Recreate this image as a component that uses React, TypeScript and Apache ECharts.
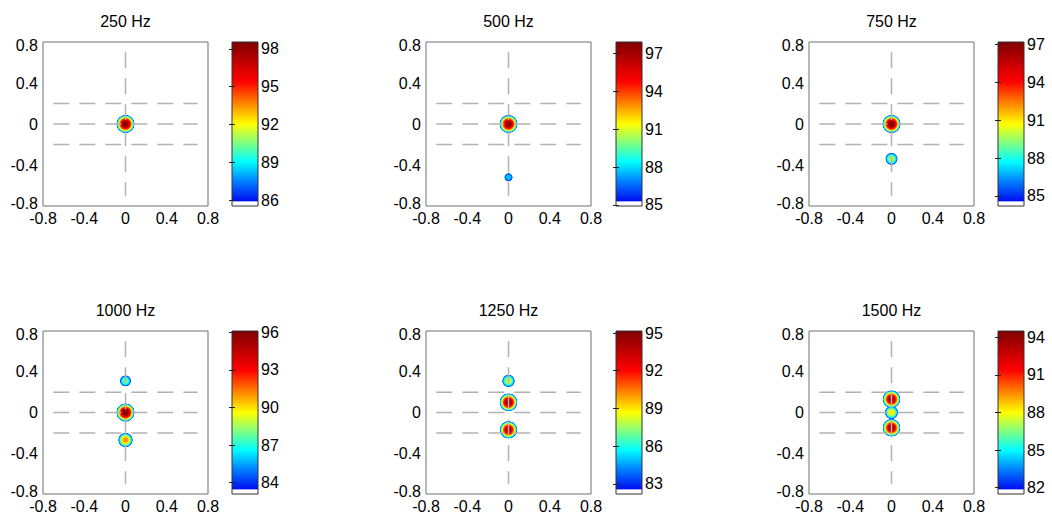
import React, { useEffect, useRef } from 'react';
import * as echarts from 'echarts';

// ---------- data ----------
const titles = ['250 Hz', '500 Hz', '750 Hz', '1000 Hz', '1250 Hz', '1500 Hz'];
const axisTickValues = [-0.8, -0.4, 0, 0.4, 0.8];
// source positions (x, y) and peak levels (dB) per panel
const srcX = [[0], [0, 0], [0, 0], [0, 0, 0], [0, 0, 0], [0, 0, 0]];
const srcY = [[0], [0, -0.52], [0, -0.34], [0.31, 0, -0.27], [0.31, 0.1, -0.17], [0.13, 0, -0.15]];
const srcPeak = [[98.3], [97.5, 87.8], [97.0, 90.0], [88.0, 96.0, 91.2], [88.3, 94.6, 94.0], [93.6, 88.3, 93.6]];
// colour bar ranges and tick labels
const cbMin = [85.53, 84.92, 84.2, 83.1, 82.2, 81.5];
const cbMax = [98.55, 97.9, 97.2, 96.1, 95.16, 94.5];
const cbTicks = [
  [86, 89, 92, 95, 98],
  [85, 88, 91, 94, 97],
  [85, 88, 91, 94, 97],
  [84, 87, 90, 93, 96],
  [83, 86, 89, 92, 95],
  [82, 85, 88, 91, 94],
];
// dashed guide lines
const guideY = [0.2, 0, -0.2];
const guideX = [0];
const guideSpan = [-0.7, 0.7];

// ---------- style ----------
const FONT = '"Liberation Sans", Arial, Helvetica, sans-serif';
const FS = 16;
const colLeft = [43, 426, 809];
const cbLeft = [232, 616, 998];
const rowTop = [42, 331];
const rowH = [164, 163];
const plotW = 165;
const cbW = 26;
const ringStep = 0.2;
const ringStart = 0.9; // dB above colour-bar minimum where blobs begin
const curvature = 0.16; // dB per px^2 (blob profile)

const cmapStops: [number, string][] = [
  [0, '#ffffff'],
  [0.025, '#ffffff'],
  [0.032, '#0010f0'],
  [0.15, '#0080ff'],
  [0.27, '#00ffff'],
  [0.385, '#80ff80'],
  [0.5, '#ffff00'],
  [0.63, '#ff8000'],
  [0.76, '#ff0000'],
  [1, '#800000'],
];

function hexToRgb(h: string) {
  return [parseInt(h.slice(1, 3), 16), parseInt(h.slice(3, 5), 16), parseInt(h.slice(5, 7), 16)];
}
function sampleCmap(t: number) {
  for (let k = 1; k < cmapStops.length; k++) {
    const [t1, c1] = cmapStops[k];
    const [t0, c0] = cmapStops[k - 1];
    if (t <= t1) {
      const f = t1 === t0 ? 0 : (t - t0) / (t1 - t0);
      const a = hexToRgb(c0), b = hexToRgb(c1);
      const r = a.map((v, j) => Math.round(v + (b[j] - v) * f));
      return `rgb(${r[0]},${r[1]},${r[2]})`;
    }
  }
  return cmapStops[cmapStops.length - 1][1];
}
const cmapColors: string[] = [];
for (let k = 0; k <= 200; k++) cmapColors.push(sampleCmap(k / 200));

function blobPoints(i: number) {
  const pts: number[][] = [];
  srcY[i].forEach((y, k) => {
    const x = srcX[i][k];
    const peak = srcPeak[i][k];
    for (let l = cbMin[i] + ringStart; l < peak; l += ringStep) {
      pts.push([x, y, l, Math.max(1.5, 2 * Math.sqrt((peak - l + 0.5) / curvature))]);
    }
    pts.push([x, y, peak, 2]);
  });
  pts.sort((a, b) => a[2] - b[2]);
  return pts;
}

const fmt = (v: number) => {
  const s = String(Math.round(v * 10) / 10);
  if (Math.abs(v + 0.8) < 1e-6) return `{lo|${s}}`;
  if (Math.abs(v - 0.8) < 1e-6) return `{hi|${s}}`;
  return s;
};
const fmtX = (v: number) => String(Math.round(v * 10) / 10);

export default function App() {
  const ref = useRef<HTMLDivElement>(null);
  useEffect(() => {
    if (!ref.current) return;
    const chart = echarts.init(ref.current, null, { renderer: 'svg' });
    const grid: any[] = [];
    const xAxis: any[] = [];
    const yAxis: any[] = [];
    const series: any[] = [];
    const visualMap: any[] = [];
    const graphic: any[] = [];
    const txt = { color: '#000', fontSize: FS, fontFamily: FONT };

    // plot grids 0..5
    for (let i = 0; i < 6; i++) {
      const r = Math.floor(i / 3), c = i % 3;
      grid.push({
        left: colLeft[c], top: rowTop[r], width: plotW, height: rowH[r],
        show: true, borderColor: '#6e6e6e', borderWidth: 1, backgroundColor: 'transparent',
      });
      xAxis.push({
        type: 'value', gridIndex: i, min: -0.8, max: 0.8, interval: 0.4,
        axisLine: { show: false }, axisTick: { show: false }, splitLine: { show: false },
        axisLabel: { ...txt, customValues: axisTickValues, margin: 4, formatter: fmtX },
      });
      yAxis.push({
        type: 'value', gridIndex: i, min: -0.8, max: 0.8, interval: 0.4,
        axisLine: { show: false }, axisTick: { show: false }, splitLine: { show: false },
        axisLabel: {
          ...txt, customValues: axisTickValues, margin: 5, formatter: fmt,
          rich: {
            lo: { ...txt, padding: [0, 0, 6, 0] },
            hi: { ...txt, padding: [6, 0, 0, 0] },
          },
        },
      });
      graphic.push({
        type: 'text', x: colLeft[c] + plotW / 2, y: rowTop[r] - 21,
        style: { text: titles[i], align: 'center', verticalAlign: 'middle', fontSize: FS, fontFamily: FONT, fill: '#000' },
      });
    }
    // colorbar grids 6..11
    for (let i = 0; i < 6; i++) {
      const r = Math.floor(i / 3), c = i % 3;
      grid.push({ left: cbLeft[c], top: rowTop[r], width: cbW, height: rowH[r] });
      xAxis.push({ type: 'value', gridIndex: 6 + i, min: 0, max: 1, show: false });
    }
    for (let i = 0; i < 6; i++) {
      yAxis.push({
        type: 'value', gridIndex: 6 + i, position: 'right', min: cbMin[i], max: cbMax[i], z: 10,
        axisLine: { show: false }, splitLine: { show: false },
        axisTick: { show: true, inside: true, length: 3, lineStyle: { color: '#222' }, customValues: cbTicks[i] },
        axisLabel: { show: true, ...txt, margin: 3, customValues: cbTicks[i] },
      });
    }
    for (let i = 0; i < 6; i++) {
      yAxis.push({
        type: 'value', gridIndex: 6 + i, position: 'left', min: cbMin[i], max: cbMax[i], z: 10,
        axisLine: { show: false }, splitLine: { show: false },
        axisTick: { show: true, inside: true, length: 3, lineStyle: { color: '#222' }, customValues: cbTicks[i] },
        axisLabel: { show: false },
      });
    }

    const gradStops = cmapStops.map(([o, col]) => ({ offset: o, color: col }));
    for (let i = 0; i < 6; i++) {
      // blobs
      const idx = series.length;
      series.push({
        type: 'scatter', xAxisIndex: i, yAxisIndex: i, silent: true, z: 2,
        symbol: 'circle', symbolSize: (v: number[]) => v[3],
        itemStyle: { opacity: 1 },
        data: blobPoints(i),
      });
      visualMap.push({
        type: 'continuous', show: false, seriesIndex: idx, dimension: 2,
        min: cbMin[i], max: cbMax[i], inRange: { color: cmapColors },
      });
      // guides
      const ls = { color: '#b2b2b2', width: 1.5, type: [16, 10] };
      guideY.forEach((gy) => {
        series.push({
          type: 'line', xAxisIndex: i, yAxisIndex: i, silent: true, z: 5, symbol: 'none',
          lineStyle: ls, data: [[guideSpan[0], gy], [guideSpan[1], gy]],
        });
      });
      guideX.forEach((gx) => {
        series.push({
          type: 'line', xAxisIndex: i, yAxisIndex: i, silent: true, z: 5, symbol: 'none',
          lineStyle: ls, data: [[gx, guideSpan[1]], [gx, guideSpan[0]]],
        });
      });
      // colorbar
      series.push({
        type: 'custom', xAxisIndex: 6 + i, yAxisIndex: 6 + i, silent: true, z: 2,
        data: [[0, cbMin[i], cbMax[i]]],
        renderItem: (_p: any, api: any) => {
          const p0 = api.coord([0, api.value(1)]);
          const p1 = api.coord([1, api.value(2)]);
          return {
            type: 'rect',
            shape: { x: p0[0], y: p1[1], width: p1[0] - p0[0], height: p0[1] - p1[1] },
            style: { fill: new echarts.graphic.LinearGradient(0, 1, 0, 0, gradStops), stroke: '#333', lineWidth: 1 },
          };
        },
      });
    }

    chart.setOption({
      animation: false,
      backgroundColor: '#fff',
      grid, xAxis, yAxis, series, visualMap, graphic,
    });
    return () => chart.dispose();
  }, []);
  return <div ref={ref} style={{ position: 'absolute', left: 0, top: 0, width: 1052, height: 518 }} />;
}
